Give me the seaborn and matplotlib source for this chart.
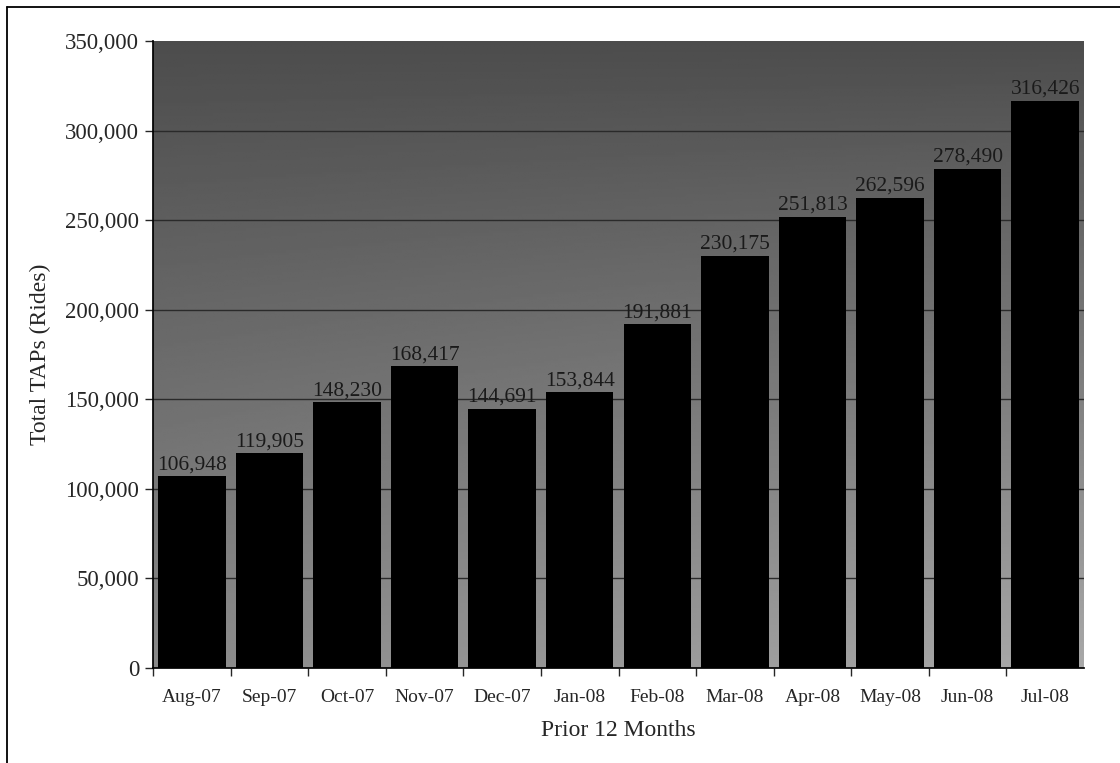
import numpy as np
import pandas as pd
import matplotlib
matplotlib.use("Agg")
import matplotlib.pyplot as plt
import seaborn as sns
from matplotlib.ticker import FuncFormatter
from matplotlib.lines import Line2D

months = ["Aug-07", "Sep-07", "Oct-07", "Nov-07", "Dec-07", "Jan-08",
          "Feb-08", "Mar-08", "Apr-08", "May-08", "Jun-08", "Jul-08"]
taps = [106948, 119905, 148230, 168417, 144691, 153844,
        191881, 230175, 251813, 262596, 278490, 316426]
yticks = [0, 50000, 100000, 150000, 200000, 250000, 300000, 350000]

df = pd.DataFrame({"month": months, "taps": taps})

sns.set_theme(style="white")
plt.rcParams["font.family"] = ["Liberation Serif", "DejaVu Serif"]

W, H = 1120, 763
fig = plt.figure(figsize=(W / 100, H / 100), dpi=100)
ax = fig.add_axes([153 / W, 1 - 668 / H, (1084 - 153) / W, (668 - 41) / H])

# outer chart frame (left and top edges visible)
fig.add_artist(Line2D([7 / W, 7 / W], [0.0, 1 - 7 / H], transform=fig.transFigure,
                      color="black", linewidth=1.3))
fig.add_artist(Line2D([7 / W, 1.0], [1 - 7 / H, 1 - 7 / H], transform=fig.transFigure,
                      color="black", linewidth=1.3))

# plot area background: gray gradient, darker at top
grad = np.linspace(0, 1, 256).reshape(-1, 1)
xg = np.linspace(0, 1, 256).reshape(1, -1)
img = 0.30 + 0.24 * grad + 0.12 * (grad * xg)
ax.imshow(img, cmap="gray", vmin=0, vmax=1, aspect="auto",
          extent=[0, 1, 0, 1], transform=ax.transAxes, zorder=0, origin="upper")

sns.barplot(data=df, x="month", y="taps", color="black", width=0.87,
            saturation=1, ax=ax, zorder=3, edgecolor="black", linewidth=0)

for i, v in enumerate(taps):
    ax.text(i, v + 1200, f"{v:,}", ha="center", va="bottom",
            fontsize=15.5, color="#1a1a1a", zorder=4)

ax.set_ylim(0, 350000)
ax.set_yticks(yticks)
ax.yaxis.set_major_formatter(FuncFormatter(lambda v, p: f"{int(v):,}"))
for y in yticks[1:-1]:
    ax.axhline(y, color="#2a2a2a", linewidth=1.0, zorder=1)

ax.set_xlabel("Prior 12 Months", fontsize=17, labelpad=10)
ax.set_ylabel("Total TAPs (Rides)", fontsize=17, labelpad=10)
ax.tick_params(axis="y", labelsize=16.5, length=6, width=1, direction="out", left=True, pad=4)
ax.tick_params(axis="x", labelsize=14, length=0, pad=15)
ax.set_xticks(np.arange(len(months)) - 0.5, minor=True)
ax.tick_params(axis="x", which="minor", length=6, width=1, bottom=True, direction="out")

for side in ["top", "right"]:
    ax.spines[side].set_visible(False)
ax.spines["left"].set_color("black")
ax.spines["bottom"].set_color("black")
ax.set_xlim(-0.5, len(months) - 0.5)

fig.savefig("out.png", dpi=100)
